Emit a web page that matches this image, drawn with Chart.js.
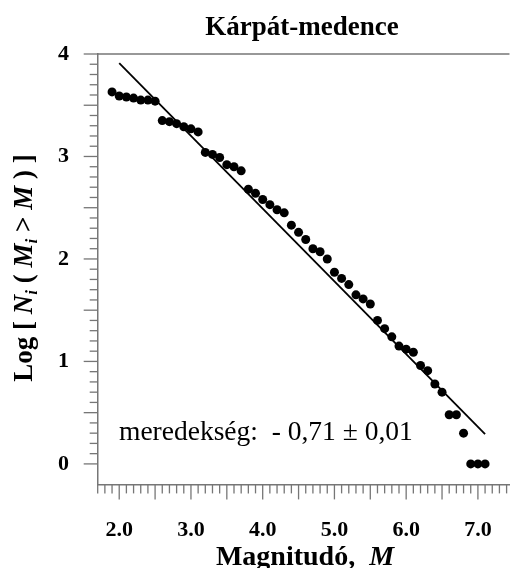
<!DOCTYPE html>
<html>
<head>
<meta charset="utf-8">
<script src="https://cdn.jsdelivr.net/npm/chart.js@4.4.1/dist/chart.umd.min.js"></script>
<style>
html,body{margin:0;padding:0;background:#ffffff;}
#wrap{width:525px;height:568px;position:relative;}
#c{display:block;}
</style>
</head>
<body>
<div id="wrap"><canvas id="c" width="525" height="568"></canvas></div>
<script>
// ---- data ----
const magnitudes = [1.9,2.0,2.1,2.2,2.3,2.4,2.5,2.6,2.7,2.8,2.9,3.0,3.1,3.2,3.3,3.4,3.5,3.6,3.7,3.8,3.9,4.0,4.1,4.2,4.3,4.4,4.5,4.6,4.7,4.8,4.9,5.0,5.1,5.2,5.3,5.4,5.5,5.6,5.7,5.8,5.9,6.0,6.1,6.2,6.3,6.4,6.5,6.6,6.7,6.8,6.9,7.0,7.1];
const logN = [3.63,3.59,3.58,3.57,3.55,3.55,3.54,3.35,3.34,3.32,3.29,3.27,3.24,3.04,3.02,2.99,2.92,2.90,2.86,2.68,2.64,2.58,2.53,2.48,2.45,2.33,2.26,2.19,2.10,2.07,2.00,1.87,1.81,1.75,1.65,1.61,1.56,1.40,1.32,1.24,1.15,1.12,1.09,0.96,0.91,0.78,0.70,0.48,0.48,0.30,0,0,0];
const fitX = [2.0, 7.1];
const fitY = [3.91, 0.29];
const xTickValues = [2,3,4,5,6,7];
const yTickValues = [0,1,2,3,4];
const chartTitle = 'Kárpát-medence';
const slopeLabel = 'meredekség:  - 0,71 ± 0,01';
const xTitleParts = [['Magnitudó,  ', 'bold'], ['M', 'italic bold']];
const yTitleParts = [['Log [ ', 'bold', false], ['N', 'italic bold', false], ['i', 'italic bold', true], [' ( ', 'bold', false], ['M', 'italic bold', false], ['i', 'italic bold', true], [' > ', 'bold', false], ['M', 'italic bold', false], [' ) ]', 'bold', false]];

const SERIF = '"Liberation Serif", "Times New Roman", serif';
const AXIS_GRAY = '#767676';

const decorPlugin = {
  id: 'decor',
  afterDraw(chart) {
    const ctx = chart.ctx;
    const a = chart.chartArea;
    const xs = chart.scales.x, ys = chart.scales.y;
    ctx.save();
    // top frame line
    ctx.strokeStyle = AXIS_GRAY;
    ctx.lineWidth = 1.5;
    ctx.beginPath();
    ctx.moveTo(a.left, a.top);
    ctx.lineTo(a.right, a.top);
    ctx.stroke();
    // x ticks (minor every 0.1, long every 0.5)
    ctx.lineWidth = 1.3;
    for (let k = Math.ceil(xs.min * 10 - 1e-6); k <= Math.floor(xs.max * 10 + 1e-6); k++) {
      const px = xs.getPixelForValue(k / 10);
      const len = (k % 5 === 0) ? 15 : 9;
      ctx.beginPath();
      ctx.moveTo(px, a.bottom);
      ctx.lineTo(px, a.bottom + len);
      ctx.stroke();
    }
    // y ticks
    for (let k = 0; k <= 40; k++) {
      const py = ys.getPixelForValue(k / 10);
      const len = (k % 5 === 0) ? 14 : 8;
      ctx.beginPath();
      ctx.moveTo(a.left, py);
      ctx.lineTo(a.left - len, py);
      ctx.stroke();
    }
    // chart title
    ctx.fillStyle = '#000';
    ctx.font = 'bold 27px ' + SERIF;
    ctx.textAlign = 'center';
    ctx.textBaseline = 'alphabetic';
    ctx.fillText(chartTitle, 302, 35);
    // slope annotation
    ctx.font = '27.5px ' + SERIF;
    ctx.textAlign = 'left';
    ctx.fillText(slopeLabel, 119, 440);
    // x title
    let total = 0;
    xTitleParts.forEach(p => { ctx.font = p[1] + ' 28px ' + SERIF; total += ctx.measureText(p[0]).width; });
    let x0 = 305 - total / 2;
    xTitleParts.forEach(p => { ctx.font = p[1] + ' 28px ' + SERIF; ctx.fillText(p[0], x0, 565); x0 += ctx.measureText(p[0]).width; });
    // y title (rotated)
    ctx.translate(32, 268);
    ctx.rotate(-Math.PI / 2);
    total = 0;
    yTitleParts.forEach(p => { ctx.font = p[1] + (p[2] ? ' 17px ' : ' 27px ') + SERIF; total += ctx.measureText(p[0]).width; });
    let t = -total / 2;
    yTitleParts.forEach(p => {
      ctx.font = p[1] + (p[2] ? ' 17px ' : ' 27px ') + SERIF;
      ctx.fillText(p[0], t, p[2] ? 5 : 0);
      t += ctx.measureText(p[0]).width;
    });
    ctx.restore();
  }
};

new Chart(document.getElementById('c'), {
  type: 'scatter',
  data: {
    datasets: [
      {
        data: fitX.map((x, i) => ({x: x, y: fitY[i]})),
        showLine: true,
        borderColor: '#000',
        borderWidth: 1.8,
        pointRadius: 0,
        fill: false,
        order: 2
      },
      {
        data: magnitudes.map((x, i) => ({x: x, y: logN[i]})),
        backgroundColor: '#000',
        borderColor: '#000',
        pointRadius: 4.5,
        pointBorderWidth: 0,
        order: 1
      }
    ]
  },
  options: {
    responsive: false,
    animation: false,
    devicePixelRatio: 1,
    layout: {padding: {top: 54, right: 0, bottom: 0, left: 0}},
    plugins: {legend: {display: false}, tooltip: {enabled: false}, title: {display: false}},
    scales: {
      x: {
        type: 'linear', min: 1.7, max: 7.44,
        grid: {display: false, drawTicks: false},
        border: {display: true, color: AXIS_GRAY, width: 1.5},
        afterBuildTicks: s => { s.ticks = xTickValues.map(v => ({value: v})); },
        afterFit: s => { s.height = 83.6; },
        ticks: {
          callback: v => Number(v).toFixed(1),
          font: {family: SERIF, size: 22, weight: 'bold'},
          color: '#000', padding: 33, maxRotation: 0, autoSkip: false
        }
      },
      y: {
        type: 'linear', min: -0.2, max: 4,
        grid: {display: false, drawTicks: false},
        border: {display: true, color: AXIS_GRAY, width: 1.5},
        afterBuildTicks: s => { s.ticks = yTickValues.map(v => ({value: v})); },
        afterFit: s => { s.width = 97.7; },
        ticks: {
          callback: v => String(v),
          font: {family: SERIF, size: 22, weight: 'bold'},
          color: '#000', padding: 28.7, autoSkip: false
        }
      }
    }
  },
  plugins: [decorPlugin]
});
</script>
</body>
</html>
